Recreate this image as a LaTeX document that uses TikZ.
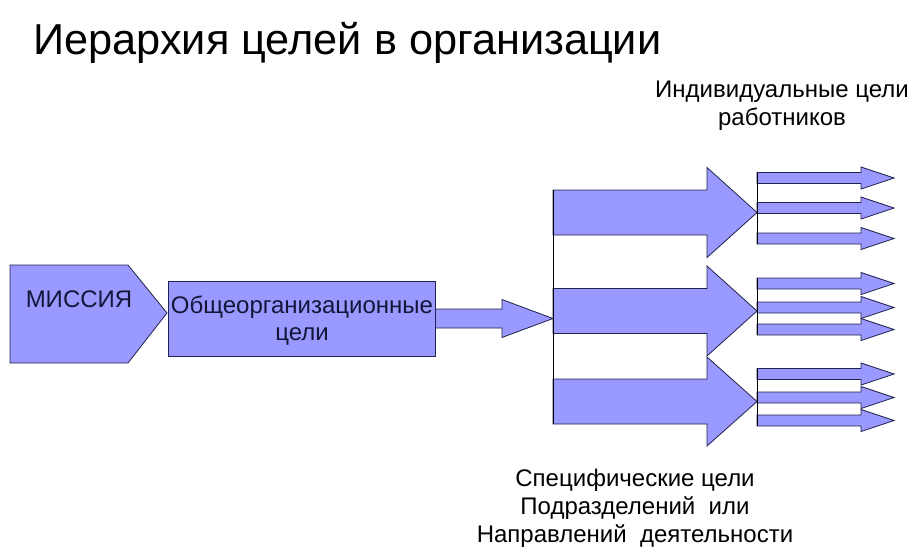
\documentclass[tikz,border=0pt]{standalone}
\usepackage{fontspec}
\setmainfont{Liberation Sans}
\definecolor{shapefill}{HTML}{9999FF}
\definecolor{shapeline}{HTML}{22224F}
\definecolor{labelink}{HTML}{15153A}
\begin{document}
\begin{tikzpicture}[x=1pt,y=-1pt,
  shp/.style={fill=shapefill,draw=shapeline,line width=0.8pt,line join=miter},
  ln/.style={draw=black,line width=0.9pt},
  lbl/.style={font=\fontsize{24}{28}\selectfont,align=center,inner sep=0pt,text=black},
  inlbl/.style={font=\fontsize{24}{27}\selectfont,align=center,inner sep=0pt,text=labelink}]
\useasboundingbox (0,0) rectangle (921,552);
% harrow{x0}{xhead}{xtip}{ymid}{shafthalf}{headhalf}
\newcommand\harrow[6]{%
  \path[shp] (#1,#4-#5) -- (#2,#4-#5) -- (#2,#4-#6) -- (#3,#4) -- (#2,#4+#6) -- (#2,#4+#5) -- (#1,#4+#5) -- cycle;}
% title
\node[anchor=base west,inner sep=0pt,font=\fontsize{43.3}{50}\selectfont] (title) at (33,54) {Иерархия целей в организации};
% mission
\path[shp] (10,265) -- (128,265) -- (167,313) -- (128,363) -- (10,363) -- cycle;
\node[inlbl,anchor=base] (mission) at (79,307) {МИССИЯ};
% arrow from box
\harrow{420}{502}{553}{318.5}{9.5}{19}
% box
\path[shp] (168,281) rectangle (435,356);
\node[inlbl,anchor=base] (org) at (302,340) {Общеорганизационные\\цели};
% big arrows
\harrow{553}{707}{757}{212.5}{22.5}{45}
\harrow{553}{707}{757}{311}{22.5}{45}
\harrow{553}{707}{757}{401.5}{22.5}{44.5}
\draw[ln] (553,190) -- (553,424);
% small arrows
\foreach \m in {178,208,238.5,283.5,307.5,329.5,374,397.5,420.5}{%
  \harrow{757}{861}{894}{\m}{5.5}{11}}
\draw[ln] (757,172.5) -- (757,244);
\draw[ln] (757,278) -- (757,335);
\draw[ln] (757,368.5) -- (757,426);
% labels
\node[lbl,anchor=base] (indiv) at (782,125) {Индивидуальные цели\\работников};
\node[lbl,anchor=base] (spec) at (635,542) {Специфические цели\\Подразделений\ \ или\\Направлений\ \ деятельности};
\end{tikzpicture}
\end{document}
